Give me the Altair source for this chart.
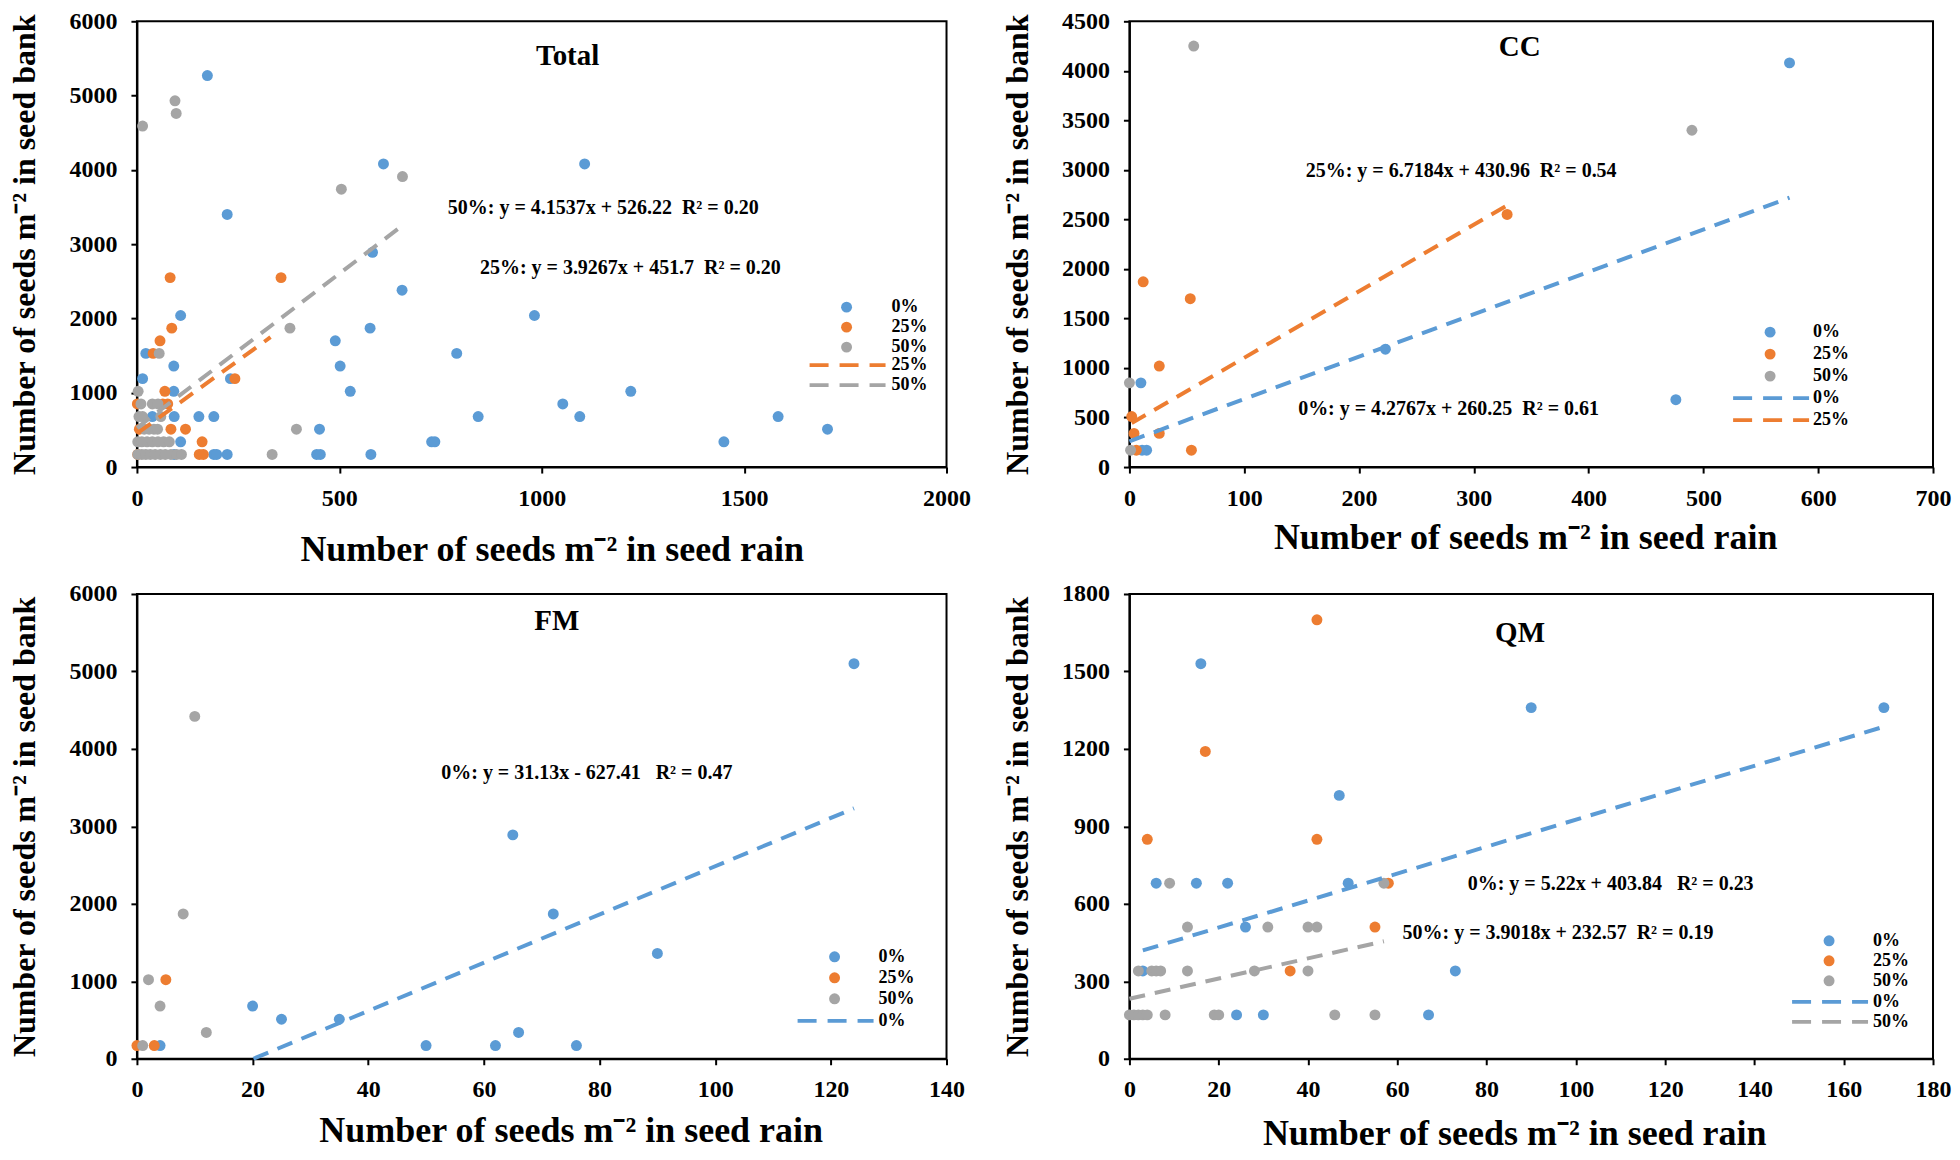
import altair as alt
import pandas as pd

FONT = "Liberation Serif"
SERIES = ["0%", "25%", "50%"]
SERIES_COLORS = ["#5B9BD5", "#ED7D31", "#A5A5A5"]
XTITLE = "Number of seeds m\u207b\u00b2 in seed rain"
YTITLE = "Number of seeds m\u207b\u00b2 in seed bank"

# ---------------- data ----------------
# Total
total_0_x = [174, 609, 1106, 223, 582, 655, 108, 982, 576, 490, 22, 790, 91, 502, 14, 231, 91, 527, 1220, 1052,
             38, 92, 153, 190, 843, 1094, 1584, 451, 1706, 108, 728, 736, 1450, 92, 190, 197, 223, 444, 453, 578]
total_0_y = [5270, 4080, 4080, 3400, 2890, 2380, 2040, 2040, 1870, 1700, 1530, 1530, 1360, 1360, 1190, 1190, 1020, 1020, 1020, 850,
             680, 680, 680, 680, 680, 680, 680, 510, 510, 340, 340, 340, 340, 170, 170, 170, 170, 170, 170, 170]
total_25_x = [82, 356, 86, 57, 40, 242, 69, 1, 64, 76, 6, 84, 120, 161, 2, 154, 164]
total_25_y = [2550, 2550, 1870, 1700, 1530, 1190, 1020, 850, 850, 850, 510, 510, 510, 340, 170, 170, 170]
total_50_x = [14, 94, 97, 656, 505, 378, 55, 3, 10, 38, 52, 5, 14, 59, 18, 30, 42, 51, 394,
              2, 12, 25, 38, 52, 66, 80, 2, 12, 22, 33, 45, 58, 70, 84, 98, 110, 334]
total_50_y = [4590, 4930, 4760, 3910, 3740, 1870, 1530, 1020, 850, 850, 850, 680, 680, 680, 510, 510, 510, 510, 510,
              340, 340, 340, 340, 340, 340, 340, 170, 170, 170, 170, 170, 170, 170, 170, 170, 170, 170]
# CC
cc_0_x = [575, 223, 10, 476, 11, 15]
cc_0_y = [4080, 1190, 850, 680, 170, 170]
cc_25_x = [329, 12, 53, 26, 2, 4, 26, 54, 6]
cc_25_y = [2550, 1870, 1700, 1020, 510, 340, 340, 170, 170]
cc_50_x = [56, 490, 0, 1]
cc_50_y = [4250, 3400, 850, 170]
# FM
fm_0_x = [124, 65, 72, 90, 20, 25, 35, 66, 50, 62, 76, 4]
fm_0_y = [5100, 2890, 1870, 1360, 680, 510, 510, 340, 170, 170, 170, 170]
fm_25_x = [5, 0, 3]
fm_25_y = [1020, 170, 170]
fm_50_x = [10, 8, 2, 4, 12, 1]
fm_50_y = [4420, 1870, 1020, 680, 340, 170]
# QM
qm_0_x = [16, 90, 169, 47, 6, 15, 22, 49, 26, 3, 73, 24, 30, 67]
qm_0_y = [1530, 1360, 1360, 1020, 680, 680, 680, 680, 510, 340, 340, 170, 170, 170]
qm_25_x = [42, 17, 4, 42, 58, 55, 36]
qm_25_y = [1700, 1190, 850, 850, 680, 510, 340]
qm_50_x = [9, 57, 13, 31, 40, 42, 2, 5, 6, 7, 13, 28, 40, 0, 1, 2, 3, 4, 8, 19, 20, 46, 55]
qm_50_y = [680, 680, 510, 510, 510, 510, 340, 340, 340, 340, 340, 340, 340,
           170, 170, 170, 170, 170, 170, 170, 170, 170, 170]

# axis ticks
total_x_ticks = [0, 500, 1000, 1500, 2000]
total_y_ticks = [0, 1000, 2000, 3000, 4000, 5000, 6000]
cc_x_ticks = [0, 100, 200, 300, 400, 500, 600, 700]
cc_y_ticks = [0, 500, 1000, 1500, 2000, 2500, 3000, 3500, 4000, 4500]
fm_x_ticks = [0, 20, 40, 60, 80, 100, 120, 140]
fm_y_ticks = [0, 1000, 2000, 3000, 4000, 5000, 6000]
qm_x_ticks = [0, 20, 40, 60, 80, 100, 120, 140, 160, 180]
qm_y_ticks = [0, 300, 600, 900, 1200, 1500, 1800]

# linear trendlines (equations printed on the chart, x range of each fitted line)
trend_panel = ["Total", "Total", "CC", "CC", "FM", "QM", "QM"]
trend_series = ["25%", "50%", "0%", "25%", "0%", "0%", "50%"]
trend_slope = [3.9267, 4.1537, 4.2767, 6.7184, 31.13, 5.22, 3.9018]
trend_intercept = [451.7, 526.22, 260.25, 430.96, -627.41, 403.84, 232.57]
trend_x_from = [2, 0, 0, 2, 0, 3, 0]
trend_x_to = [330, 656, 575, 329, 124, 169, 57]

# equation labels
eq_panel = ["Total", "Total", "CC", "CC", "FM", "QM", "QM"]
NB = "\u00a0"
eq_text = [
    "50%: y = 4.1537x + 526.22" + NB + NB + "R\u00b2 = 0.20",
    "25%: y = 3.9267x + 451.7" + NB + NB + "R\u00b2 = 0.20",
    "25%: y = 6.7184x + 430.96" + NB + NB + "R\u00b2 = 0.54",
    "0%: y = 4.2767x + 260.25" + NB + NB + "R\u00b2 = 0.61",
    "0%: y = 31.13x - 627.41" + NB + NB + NB + "R\u00b2 = 0.47",
    "0%: y = 5.22x + 403.84" + NB + NB + NB + "R\u00b2 = 0.23",
    "50%: y = 3.9018x + 232.57" + NB + NB + "R\u00b2 = 0.19",
]

POINTS = {
    "Total": [(total_0_x, total_0_y), (total_25_x, total_25_y), (total_50_x, total_50_y)],
    "CC": [(cc_0_x, cc_0_y), (cc_25_x, cc_25_y), (cc_50_x, cc_50_y)],
    "FM": [(fm_0_x, fm_0_y), (fm_25_x, fm_25_y), (fm_50_x, fm_50_y)],
    "QM": [(qm_0_x, qm_0_y), (qm_25_x, qm_25_y), (qm_50_x, qm_50_y)],
}

# ---------------- layout / style ----------------
LAYOUT = {
    "Total": dict(w=810, h=446, xdom=[0, 2000], ydom=[0, 6000], xt=total_x_ticks, yt=total_y_ticks,
                  xtp=22, ytp=27, xtdx=10, title=(1064, 5415), eq=[(1152, 3490), (1219, 2673)],
                  leg=dict(dot=710, lab=755, row0=286, step=20, lrow0=344, lc=711)),
    "CC": dict(w=804, h=446, xdom=[0, 700], ydom=[0, 4500], xt=cc_x_ticks, yt=cc_y_ticks,
               xtp=10, ytp=27, xtdx=-6, title=(340, 4151), eq=[(289, 2984), (278, 589)],
               leg=dict(dot=641, lab=684, row0=311, step=22, lrow0=377, lc=642)),
    "FM": dict(w=810, h=465, xdom=[0, 140], ydom=[0, 6000], xt=fm_x_ticks, yt=fm_y_ticks,
               xtp=12, ytp=27, xtdx=29, title=(72.6, 5537), eq=[(77.8, 3690)],
               leg=dict(dot=698, lab=742, row0=363, step=21, lrow0=427, lc=699)),
    "QM": dict(w=804, h=465, xdom=[0, 180], ydom=[0, 1800], xt=qm_x_ticks, yt=qm_y_ticks,
               xtp=15, ytp=27, xtdx=-17, title=(87.5, 1615), eq=[(107.8, 678), (96, 486)],
               leg=dict(dot=700, lab=744, row0=347, step=20, lrow0=408, lc=701)),
}
PANELS = ["Total", "CC", "FM", "QM"]
COLOR_OF = dict(zip(SERIES, SERIES_COLORS))
DOT = 120


def make_panel(name):
    L = LAYOUT[name]
    rows = []
    for s, (xs, ys) in zip(SERIES, POINTS[name]):
        for x, y in zip(xs, ys):
            rows.append({"x": x, "y": y, "series": s})
    pdf = pd.DataFrame(rows)

    trows = []
    for p, s, a, b, x0, x1 in zip(trend_panel, trend_series, trend_slope, trend_intercept, trend_x_from, trend_x_to):
        if p != name:
            continue
        if a * x0 + b < 0:
            x0 = -b / a
        trows.append({"x": x0, "y": a * x0 + b, "trend": s})
        trows.append({"x": x1, "y": a * x1 + b, "trend": s})
    tdf = pd.DataFrame(trows)
    tdom = list(dict.fromkeys(tdf["trend"]))

    etxt = [t for p, t in zip(eq_panel, eq_text) if p == name]
    edf = pd.DataFrame({"x": [e[0] for e in L["eq"]], "y": [e[1] for e in L["eq"]], "text": etxt})
    ttl = pd.DataFrame({"x": [L["title"][0]], "y": [L["title"][1]], "text": [name]})

    X = alt.X("x:Q", scale=alt.Scale(domain=L["xdom"], nice=False),
              axis=alt.Axis(values=L["xt"], title=XTITLE, format="d", titleFontSize=36,
                            titlePadding=L["xtp"], titleX=L["w"] / 2 + L["xtdx"],
                            labelPadding=13, tickSize=6, labelFlush=False, labelOverlap=False))
    Y = alt.Y("y:Q", scale=alt.Scale(domain=L["ydom"], nice=False),
              axis=alt.Axis(values=L["yt"], title=YTITLE, format="d", titleFontSize=32,
                            titlePadding=L["ytp"], labelPadding=14, tickSize=6,
                            labelFlush=False, labelOverlap=False))

    lg = L["leg"]
    fx = lg["dot"] - 9
    fill_leg = alt.Legend(title=None, orient="none", legendX=fx, legendY=lg["row0"] - 9,
                          symbolType="circle", symbolSize=DOT, symbolStrokeWidth=0, symbolOpacity=1,
                          labelFont=FONT, labelFontSize=18, labelFontWeight="bold", labelColor="black",
                          labelOffset=lg["lab"] - fx - 18, rowPadding=lg["step"] - 18,
                          clipHeight=18, padding=0)
    sx = lg["lc"] - 40
    stroke_leg = alt.Legend(title=None, orient="none", legendX=sx, legendY=lg["lrow0"] - 9,
                            symbolType="stroke", symbolSize=5776, symbolStrokeWidth=3.75,
                            symbolDash=[19, 11], symbolOpacity=1,
                            labelFont=FONT, labelFontSize=18, labelFontWeight="bold", labelColor="black",
                            labelOffset=lg["lab"] - sx - 80, rowPadding=lg["step"] - 18,
                            clipHeight=18, padding=0)

    pts = alt.Chart(pdf).mark_circle(size=DOT, opacity=1).encode(
        x=X, y=Y,
        fill=alt.Fill("series:N", scale=alt.Scale(domain=SERIES, range=SERIES_COLORS), legend=fill_leg),
    )
    lines = alt.Chart(tdf).mark_line(strokeWidth=4, strokeDash=[16, 10], strokeCap="butt").encode(
        x=X, y=Y,
        stroke=alt.Stroke("trend:N", scale=alt.Scale(domain=tdom, range=[COLOR_OF[t] for t in tdom]),
                          legend=stroke_leg),
        detail="trend:N",
    )
    eqs = alt.Chart(edf).mark_text(font=FONT, fontSize=20, fontWeight="bold", color="black",
                                   align="center", baseline="middle").encode(x=X, y=Y, text="text:N")
    title = alt.Chart(ttl).mark_text(font=FONT, fontSize=29, fontWeight="bold", color="black",
                                     align="center", baseline="alphabetic").encode(x=X, y=Y, text="text:N")
    return alt.layer(pts, lines, eqs, title).properties(width=L["w"], height=L["h"])


chart = alt.concat(*[make_panel(p) for p in PANELS], columns=2, spacing={"row": 13, "column": 29})
chart = chart.resolve_scale(x="independent", y="independent", fill="independent", stroke="independent")
chart = chart.resolve_legend(fill="independent", stroke="independent")
chart = chart.properties(padding=0, background="white")
chart = chart.configure_view(stroke="black", strokeWidth=2).configure_axis(
    domainColor="black", domainWidth=2, tickColor="black", tickWidth=2,
    labelFont=FONT, labelFontSize=24, labelFontWeight="bold", labelColor="black",
    titleFont=FONT, titleFontWeight="bold", titleColor="black", grid=False,
)

chart.save("out.html", embed_options={"renderer": "svg", "actions": False})
